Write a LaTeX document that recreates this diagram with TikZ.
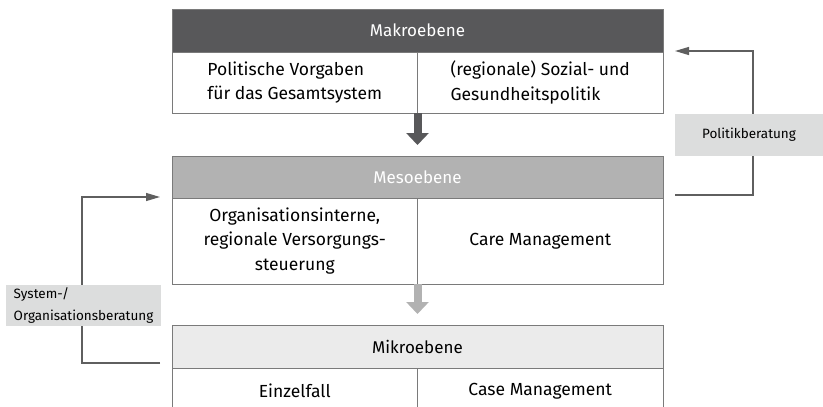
\documentclass[tikz,border=0pt]{standalone}
\usepackage{fontspec}
\setmainfont{Fira Sans}
\usepackage{xcolor}
\usetikzlibrary{arrows.meta}

\definecolor{makrogrey}{HTML}{58585A}
\definecolor{mesogrey}{HTML}{B2B2B2}
\definecolor{mikrogrey}{HTML}{EBEBEB}
\definecolor{beratgrey}{HTML}{DCDDDD}
\definecolor{framegrey}{HTML}{7A7A7A}
\definecolor{linegrey}{HTML}{5F5F5F}

\tikzset{
  lvlhead/.style={rectangle,draw=framegrey,line width=0.8pt,minimum width=491pt,
    minimum height=43pt,inner sep=0pt,outer sep=0pt,font=\fontsize{17}{24}\selectfont},
  lvlcell/.style={rectangle,draw=framegrey,fill=white,line width=0.8pt,minimum width=245.5pt,
    inner sep=0pt,outer sep=0pt,font=\fontsize{17.5}{24.5}\selectfont},
  beratbox/.style={rectangle,fill=beratgrey,inner sep=0pt,outer sep=0pt,align=left,
    font=\fontsize{13.5}{22}\selectfont},
  fbarrow/.style={-{Triangle[length=14pt,width=8pt]},draw=linegrey,line width=1.2pt},
  downarrow/.style={-{Triangle[length=12pt,width=22pt]},line width=8pt,shorten >=11pt}
}

\begin{document}
\begin{tikzpicture}[x=1pt,y=-1pt]
  \clip (0,0) rectangle (823,407);
  % Makroebene
  \node[lvlhead,fill=makrogrey,text=white] (makrohead) at (417.5,30.5) {Makroebene};
  \node[lvlcell,minimum height=61pt,align=left] (makroL) at (294.75,82.5) {Politische Vorgaben\\für das Gesamtsystem};
  \node[lvlcell,minimum height=61pt,align=left] (makroR) at (540.25,82.5) {(regionale) Sozial- und\\Gesundheitspolitik};
  % Mesoebene
  \node[lvlhead,fill=mesogrey,text=white,minimum height=42pt] (mesohead) at (417.5,177) {Mesoebene};
  \node[lvlcell,minimum height=86pt,align=center] (mesoL) at (294.75,241) {Organisationsinterne,\\regionale Versorgungs-\\steuerung};
  \node[lvlcell,minimum height=86pt] (mesoR) at (540.25,241) {Care Management};
  % Mikroebene
  \node[lvlhead,fill=mikrogrey,minimum height=43pt] (mikrohead) at (417.5,346.5) {Mikroebene};
  \node[lvlcell,minimum height=46pt] (mikroL) at (294.75,391) {Einzelfall};
  \node[lvlcell,minimum height=46pt] (mikroR) at (540.25,391) {Case Management};

  % Pfeile zwischen den Ebenen
  \draw[downarrow,makrogrey] (makroL.south east) -- (mesohead.north);
  \draw[downarrow,mesogrey] (mesoL.south east) -- (mikrohead.north);

  % Beratung
  \draw[fbarrow] ([xshift=12pt,yshift=3pt]mesohead.south east) -- ++(78,0)
    |- ([xshift=12pt,yshift=1pt]makrohead.south east);
  \draw[fbarrow] ([xshift=-12pt,yshift=5pt]mikrohead.south west) -- ++(-78,0)
    |- ([xshift=-12pt,yshift=1pt]mesohead.south west);
  \node[beratbox,minimum width=148pt,minimum height=42pt] (politik) at (749,135) {Politikberatung};
  \node[beratbox,minimum width=155pt,minimum height=41pt] (system) at (83.5,305.5) {System-/\\Organisationsberatung};
\end{tikzpicture}
\end{document}
